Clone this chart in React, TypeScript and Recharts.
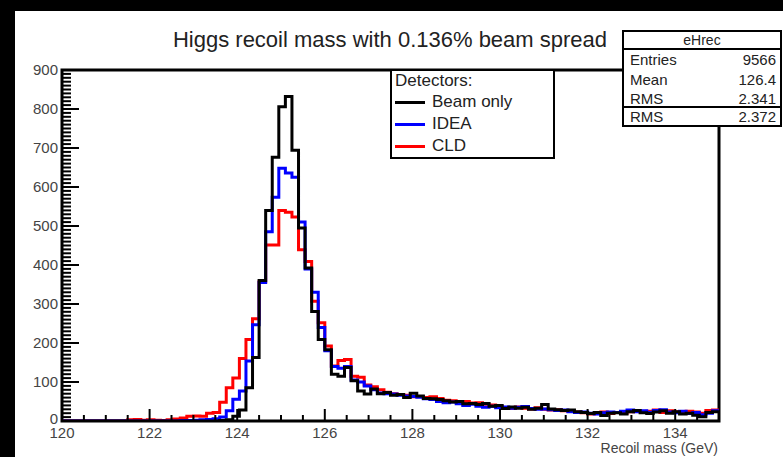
import { ComposedChart, Line, XAxis, YAxis, ReferenceArea, Legend } from "recharts";

// Higgs recoil mass histogram (ROOT style): three step outlines, 100 bins 120-135 GeV.

const FONT = "'Liberation Sans', Arial, Helvetica, sans-serif";

const BIN_LOW = 120;
const BIN_WIDTH = 0.15;

// bin contents, one value per 0.15 GeV bin
const beamOnly = [
  0, 0, 0, 0, 0, 0, 0, 0, 0, 0,
  0, 0, 0, 0, 0, 0, 0, 0, 0, 0,
  0, 0, 0, 0, 1, 3, 12, 28, 85, 163,
  360, 540, 676, 806, 832, 694, 495, 392, 281, 209,
  183, 120, 115, 137, 103, 77, 69, 82, 70, 73,
  66, 68, 60, 71, 64, 58, 57, 55, 52, 49,
  50, 44, 45, 42, 45, 38, 40, 32, 36, 33,
  35, 30, 33, 42, 31, 29, 27, 28, 24, 22,
  19, 22, 14, 20, 21, 18, 24, 27, 21, 19,
  23, 26, 20, 24, 18, 20, 15, 11, 22, 24,
];

const idea = [
  0, 0, 0, 0, 0, 0, 0, 0, 0, 0,
  0, 0, 0, 0, 0, 0, 0, 0, 1, 1,
  2, 3, 4, 6, 10, 26, 56, 77, 154, 247,
  355, 485, 574, 648, 636, 625, 510, 390, 330, 240,
  180, 140, 135, 140, 105, 100, 90, 80, 72, 70,
  69, 66, 64, 63, 61, 57, 55, 50, 47, 49,
  44, 40, 43, 38, 35, 38, 34, 36, 33, 35,
  37, 32, 30, 31, 29, 27, 28, 24, 22, 23,
  20, 18, 21, 23, 22, 25, 28, 24, 26, 22,
  27, 29, 23, 21, 25, 19, 22, 16, 20, 26,
];

const cld = [
  0, 0, 0, 0, 0, 0, 0, 0, 0, 0,
  3, 4, 2, 3, 2, 1, 3, 5, 8, 12,
  13, 12, 20, 22, 48, 85, 110, 160, 209, 262,
  357, 451, 451, 540, 535, 523, 439, 409, 307, 252,
  192, 141, 155, 158, 115, 112, 92, 88, 80, 74,
  70, 68, 66, 62, 63, 60, 62, 58, 53, 52,
  48, 50, 46, 47, 43, 41, 37, 34, 32, 36,
  33, 31, 34, 30, 28, 29, 26, 25, 23, 21,
  18, 20, 23, 19, 22, 20, 24, 27, 23, 25,
  28, 22, 26, 24, 21, 25, 23, 20, 27, 28,
];

const X_LABELS = [120, 122, 124, 126, 128, 130, 132, 134];
const X_TICKS = [
  120, 120.5, 121, 121.5, 122, 122.5, 123, 123.5, 124, 124.5, 125, 125.5,
  126, 126.5, 127, 127.5, 128, 128.5, 129, 129.5, 130, 130.5, 131, 131.5,
  132, 132.5, 133, 133.5, 134, 134.5,
];
const Y_LABELS = [0, 100, 200, 300, 400, 500, 600, 700, 800, 900];
const Y_TICKS = Array.from({ length: 91 }, (_, i) => i * 10);

const LEGEND_ITEMS = [
  { name: "Beam only", color: "#000000" },
  { name: "IDEA", color: "#0000ff" },
  { name: "CLD", color: "#ff0000" },
];

const STAT_NAMES = ["Entries", "Mean", "RMS"];
const STAT_VALUES = ["9566", "126.4", "2.341"];
const EXTRA_STAT = ["RMS", "2.372"];

// histogram edges: each bin's low edge, plus the upper edge of the last bin
const rows = beamOnly.map((_, i) => ({
  x: +(BIN_LOW + i * BIN_WIDTH).toFixed(2),
  beam: beamOnly[i],
  idea: idea[i],
  cld: cld[i],
}));
rows.push({ x: 135, beam: beamOnly[99], idea: idea[99], cld: cld[99] });

function XTick(props: any) {
  const { x, y, payload } = props;
  const major = X_LABELS.includes(payload.value);
  return (
    <g>
      <line x1={x} x2={x} y1={y} y2={y - (major ? 12 : 6)} stroke="#000" strokeWidth={2} />
      {major && (
        <text x={x} y={y + 17} textAnchor="middle" fontSize={15} fill="#444" fontFamily={FONT}>
          {payload.value}
        </text>
      )}
    </g>
  );
}

function YTick(props: any) {
  const { x, y, payload } = props;
  const major = Y_LABELS.includes(payload.value);
  // the zero label sits a little higher so it only grazes the "120" below it
  const dy = payload.value === 0 ? 3 : 5;
  return (
    <g>
      <line x1={x} x2={x + (major ? 17 : 9)} y1={y} y2={y} stroke="#000" strokeWidth={2} />
      {major && (
        <text x={x - 4} y={y + dy} textAnchor="end" fontSize={15} fill="#444" fontFamily={FONT}>
          {payload.value}
        </text>
      )}
    </g>
  );
}

function DetectorLegend() {
  return (
    <div
      style={{
        border: "2px solid #000",
        background: "#fff",
        width: 165,
        height: 90,
        boxSizing: "border-box",
        paddingLeft: 3,
        fontFamily: FONT,
        fontSize: 17,
        color: "#222",
      }}
    >
      <div style={{ height: 20, lineHeight: "20px" }}>Detectors:</div>
      {LEGEND_ITEMS.map((it) => (
        <div key={it.name} style={{ height: 22, display: "flex", alignItems: "center" }}>
          <span style={{ width: 30, height: 3, background: it.color, marginRight: 7 }} />
          {it.name}
        </div>
      ))}
    </div>
  );
}

function StatsBox() {
  const row = { display: "flex", justifyContent: "space-between", height: 19.5, lineHeight: "19.5px", padding: "0 4px 0 6px" };
  return (
    <div style={{ position: "absolute", left: 622, top: 30, width: 160, fontFamily: FONT, color: "#222", background: "#fff" }}>
      <div style={{ border: "2px solid #000", boxSizing: "border-box", height: 78 }}>
        <div style={{ textAlign: "center", fontSize: 14, height: 16, lineHeight: "16px", borderBottom: "2px solid #000" }}>
          eHrec
        </div>
        {STAT_NAMES.map((n, i) => (
          <div key={n} style={{ ...row, fontSize: 15 }}>
            <span>{n}</span>
            <span>{STAT_VALUES[i]}</span>
          </div>
        ))}
      </div>
      <div style={{ border: "2px solid #000", borderTop: "none", boxSizing: "border-box", height: 19, fontSize: 15 }}>
        <div style={{ ...row, height: 17, lineHeight: "17px" }}>
          <span>{EXTRA_STAT[0]}</span>
          <span>{EXTRA_STAT[1]}</span>
        </div>
      </div>
    </div>
  );
}

export default function App() {
  return (
    <div style={{ position: "absolute", left: 0, top: 0, width: 783, height: 457, background: "#fff", overflow: "hidden" }}>
      <ComposedChart
        width={783}
        height={457}
        data={rows}
        margin={{ top: 70, right: 64, bottom: 6, left: 12 }}
      >
        <XAxis
          dataKey="x"
          type="number"
          domain={[120, 135]}
          ticks={X_TICKS}
          interval={0}
          tick={<XTick />}
          tickLine={false}
          axisLine={false}
          tickSize={0}
          tickMargin={0}
          height={30}
          allowDataOverflow
        />
        <YAxis
          type="number"
          domain={[0, 900]}
          ticks={Y_TICKS}
          interval={0}
          tick={<YTick />}
          tickLine={false}
          axisLine={false}
          tickSize={0}
          tickMargin={0}
          width={50}
          allowDataOverflow
        />
        <Line type="stepAfter" dataKey="cld" stroke="#ff0000" strokeWidth={3} dot={false} activeDot={false} isAnimationActive={false} />
        <Line type="stepAfter" dataKey="idea" stroke="#0000ff" strokeWidth={3} dot={false} activeDot={false} isAnimationActive={false} />
        <Line type="stepAfter" dataKey="beam" stroke="#000000" strokeWidth={3} dot={false} activeDot={false} isAnimationActive={false} />
        <ReferenceArea x1={120} x2={135} y1={0} y2={900} fill="none" stroke="#000" strokeWidth={3} ifOverflow="visible" />
        <Legend
          layout="vertical"
          align="center"
          verticalAlign="middle"
          content={<DetectorLegend />}
          wrapperStyle={{ left: 390, top: 69, width: 165, height: 90 }}
        />
      </ComposedChart>
      <svg width={783} height={457} style={{ position: "absolute", left: 0, top: 0, pointerEvents: "none" }}>
        <text x={390} y={47} textAnchor="middle" fontSize={22} fill="#222" fontFamily={FONT}>
          Higgs recoil mass with 0.136% beam spread
        </text>
        <text x={718} y={453} textAnchor="end" fontSize={14} fill="#444" fontFamily={FONT}>
          Recoil mass (GeV)
        </text>
      </svg>
      <StatsBox />
      <div style={{ position: "absolute", left: 0, top: 0, width: 783, height: 11, background: "#000" }} />
      <div style={{ position: "absolute", left: 0, top: 0, width: 15, height: 457, background: "#000" }} />
    </div>
  );
}
